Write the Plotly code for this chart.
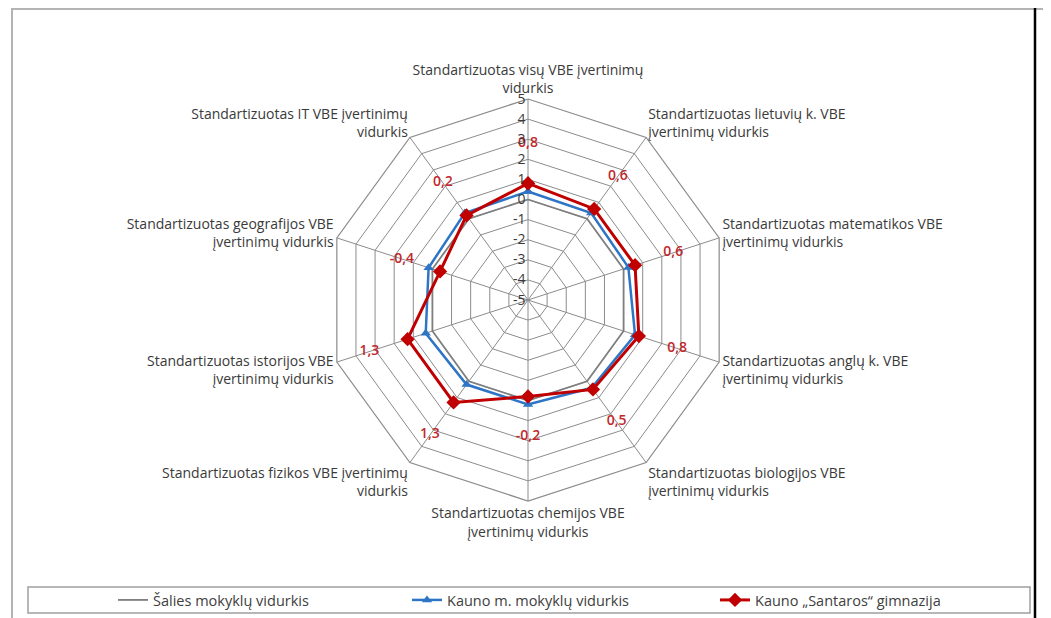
import plotly.graph_objects as go

categories = [
    "Standartizuotas visų VBE įvertinimų<br>vidurkis",
    "Standartizuotas lietuvių k. VBE<br>įvertinimų vidurkis",
    "Standartizuotas matematikos VBE<br>įvertinimų vidurkis",
    "Standartizuotas anglų k. VBE<br>įvertinimų vidurkis",
    "Standartizuotas biologijos VBE<br>įvertinimų vidurkis",
    "Standartizuotas chemijos VBE<br>įvertinimų vidurkis",
    "Standartizuotas fizikos VBE įvertinimų<br>vidurkis",
    "Standartizuotas istorijos VBE<br>įvertinimų vidurkis",
    "Standartizuotas geografijos VBE<br>įvertinimų vidurkis",
    "Standartizuotas IT VBE įvertinimų<br>vidurkis",
]
salies = [0, 0, 0, 0, 0, 0, 0, 0, 0, 0]
kauno = [0.4, 0.35, 0.25, 0.6, 0.4, 0.2, 0.2, 0.35, 0.2, 0.35]
santaros = [0.8, 0.6, 0.6, 0.8, 0.5, -0.2, 1.3, 1.3, -0.4, 0.2]
radial_ticks = [-5, -4, -3, -2, -1, 0, 1, 2, 3, 4, 5]
series_names = ["Šalies mokyklų vidurkis", "Kauno m. mokyklų vidurkis", "Kauno „Santaros“ gimnazija"]

W, H = 1051, 618
OFF = 8  # page body margin
FONT = "Open Sans"
RMIN = radial_ticks[0]  # plotly hides points on even polygons when radial range is negative -> shift axis


def px(x):
    return (x - OFF) / W


def py(y):
    return 1 - (y - OFF) / H


def cl(lst):
    return lst + lst[:1]


def sh(lst):
    return [v - RMIN for v in lst]


# clockwise order through counterclockwise axis with reversed category array
cat_order = [categories[0]] + categories[1:][::-1]
cats_closed = cl(categories)

fig = go.Figure()
fig.add_trace(go.Scatterpolar(r=sh(cl(salies)), theta=cats_closed, mode="lines",
                              line=dict(color="#7f7f7f", width=1.8), name=series_names[0],
                              legend="legend"))
fig.add_trace(go.Scatterpolar(r=sh(cl(kauno)), theta=cats_closed, mode="lines+markers",
                              line=dict(color="#2e75c6", width=2.5),
                              marker=dict(symbol="triangle-up", size=9, color="#2e75c6"),
                              name=series_names[1], legend="legend2"))
fig.add_trace(go.Scatterpolar(r=sh(cl(santaros)), theta=cats_closed, mode="lines+markers",
                              line=dict(color="#c00000", width=3),
                              marker=dict(symbol="diamond", size=11, color="#c00000"),
                              name=series_names[2], legend="legend3"))
fig.add_trace(go.Scatterpolar(r=[v + 2.0 for v in sh(santaros)], theta=categories, mode="text",
                              text=[f"{v:.1f}".replace(".", ",") for v in santaros],
                              textposition="middle center",
                              textfont=dict(color="#c0282d", size=14, family=FONT, weight=600),
                              showlegend=False, hoverinfo="skip"))

cx, cy, R = 528, 300, 201
leg_common = dict(orientation="h", yanchor="middle", xanchor="left", y=py(600),
                  font=dict(size=14.5, color="#404040"), bgcolor="rgba(0,0,0,0)", itemwidth=30)
fig.update_layout(
    width=W, height=H,
    margin=dict(l=0, r=0, t=0, b=0),
    paper_bgcolor="white", plot_bgcolor="white",
    font=dict(family=FONT, size=13, color="#404040"),
    polar=dict(
        domain=dict(x=[px(cx - R), px(cx + R)], y=[py(cy + R), py(cy - R)]),
        bgcolor="white",
        gridshape="linear",
        angularaxis=dict(rotation=90, direction="counterclockwise",
                         categoryorder="array", categoryarray=cat_order, showline=True,
                         linecolor="#8c8c8c", linewidth=1.2, gridcolor="#8c8c8c", gridwidth=1,
                         ticks="", tickfont=dict(size=14, color="#3a3a3a")),
        radialaxis=dict(range=[0, radial_ticks[-1] - RMIN], tickvals=sh(radial_ticks),
                        ticktext=[str(t) for t in radial_ticks],
                        angle=90, tickangle=90, side="counterclockwise",
                        showline=False, gridcolor="#8c8c8c", gridwidth=1, ticks="",
                        tickfont=dict(size=14, color="#3a3a3a")),
    ),
    legend=dict(x=px(113), **leg_common),
    legend2=dict(x=px(407), **leg_common),
    legend3=dict(x=px(715), **leg_common),
    shapes=[
        dict(type="rect", xref="paper", yref="paper", x0=px(12), x1=px(1047), y0=-0.05, y1=py(9),
             line=dict(color="#b4b4b4", width=2)),
        dict(type="rect", xref="paper", yref="paper", x0=px(28), x1=px(1030), y0=py(613), y1=py(587),
             line=dict(color="#a0a0a0", width=1.5)),
        dict(type="line", xref="paper", yref="paper", x0=px(1035), x1=px(1035), y0=0, y1=1,
             line=dict(color="black", width=2.5)),
    ],
)
fig.write_html("out.html")
